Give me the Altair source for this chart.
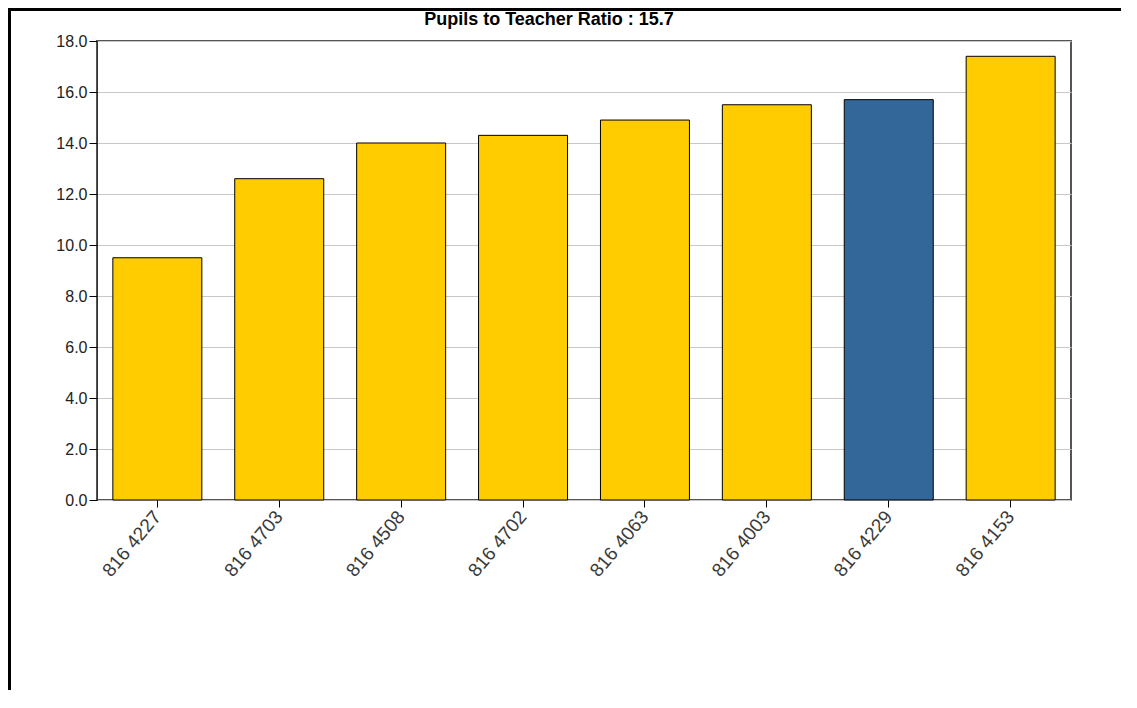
import altair as alt
import pandas as pd

schools = ["816 4227", "816 4703", "816 4508", "816 4702", "816 4063", "816 4003", "816 4229", "816 4153"]
ratios = [9.5, 12.6, 14.0, 14.3, 14.9, 15.5, 15.7, 17.4]
highlight = "816 4229"
title_text = "Pupils to Teacher Ratio : 15.7"

df = pd.DataFrame({"school": schools, "ratio": ratios})
df["kind"] = ["this" if s == highlight else "other" for s in schools]

W, H = 974, 459
PL, PT, PR, PB = 89, 33, 50, 190
FONT = "Liberation Sans, Arial, sans-serif"

bars = alt.Chart(df).mark_bar(stroke="black", strokeWidth=1).encode(
    x=alt.X("school:N", sort=schools,
            scale=alt.Scale(paddingInner=0.27, paddingOuter=0.13),
            axis=alt.Axis(title=None, labelAngle=-50, labelFontSize=19, labelColor="#3a3a3a",
                          labelFont=FONT, tickSize=7, tickColor="black",
                          domain=False, labelPadding=6)),
    y=alt.Y("ratio:Q", scale=alt.Scale(domain=[0, 18]),
            axis=alt.Axis(title=None, values=[0, 2, 4, 6, 8, 10, 12, 14, 16, 18], format=".1f",
                          labelFontSize=16, labelColor="#222222", labelFont=FONT,
                          tickSize=8, tickColor="black", domainColor="#333333",
                          gridColor="#c8c8c8", labelPadding=2)),
    color=alt.Color("kind:N", scale=alt.Scale(domain=["other", "this"], range=["#FFCC00", "#336699"]),
                    legend=None),
)

one = alt.Data(values=[{"t": title_text}])
title = alt.Chart(one).mark_text(fontSize=18, fontWeight="bold", font=FONT, color="black",
                                 align="center", baseline="alphabetic", clip=False).encode(
    text="t:N", x=alt.value(W / 2 - 35), y=alt.value(-16))
top_border = alt.Chart(one).mark_rule(color="black", strokeWidth=3, clip=False).encode(
    x=alt.value(-PL), x2=alt.value(W + PR), y=alt.value(-PT + 1.5))
left_border = alt.Chart(one).mark_rule(color="black", strokeWidth=3, clip=False).encode(
    x=alt.value(-PL + 1.5), y=alt.value(-PT), y2=alt.value(H + PB))

chart = alt.layer(bars, title, top_border, left_border).properties(
    width=W, height=H,
    autosize=alt.AutoSizeParams(type="none"),
    padding={"left": PL, "top": PT, "right": PR, "bottom": PB},
).configure_view(stroke="#555555", strokeWidth=2).configure_axis(gridWidth=1)

chart.save("out.html", embed_options={"renderer": "svg", "actions": False})
